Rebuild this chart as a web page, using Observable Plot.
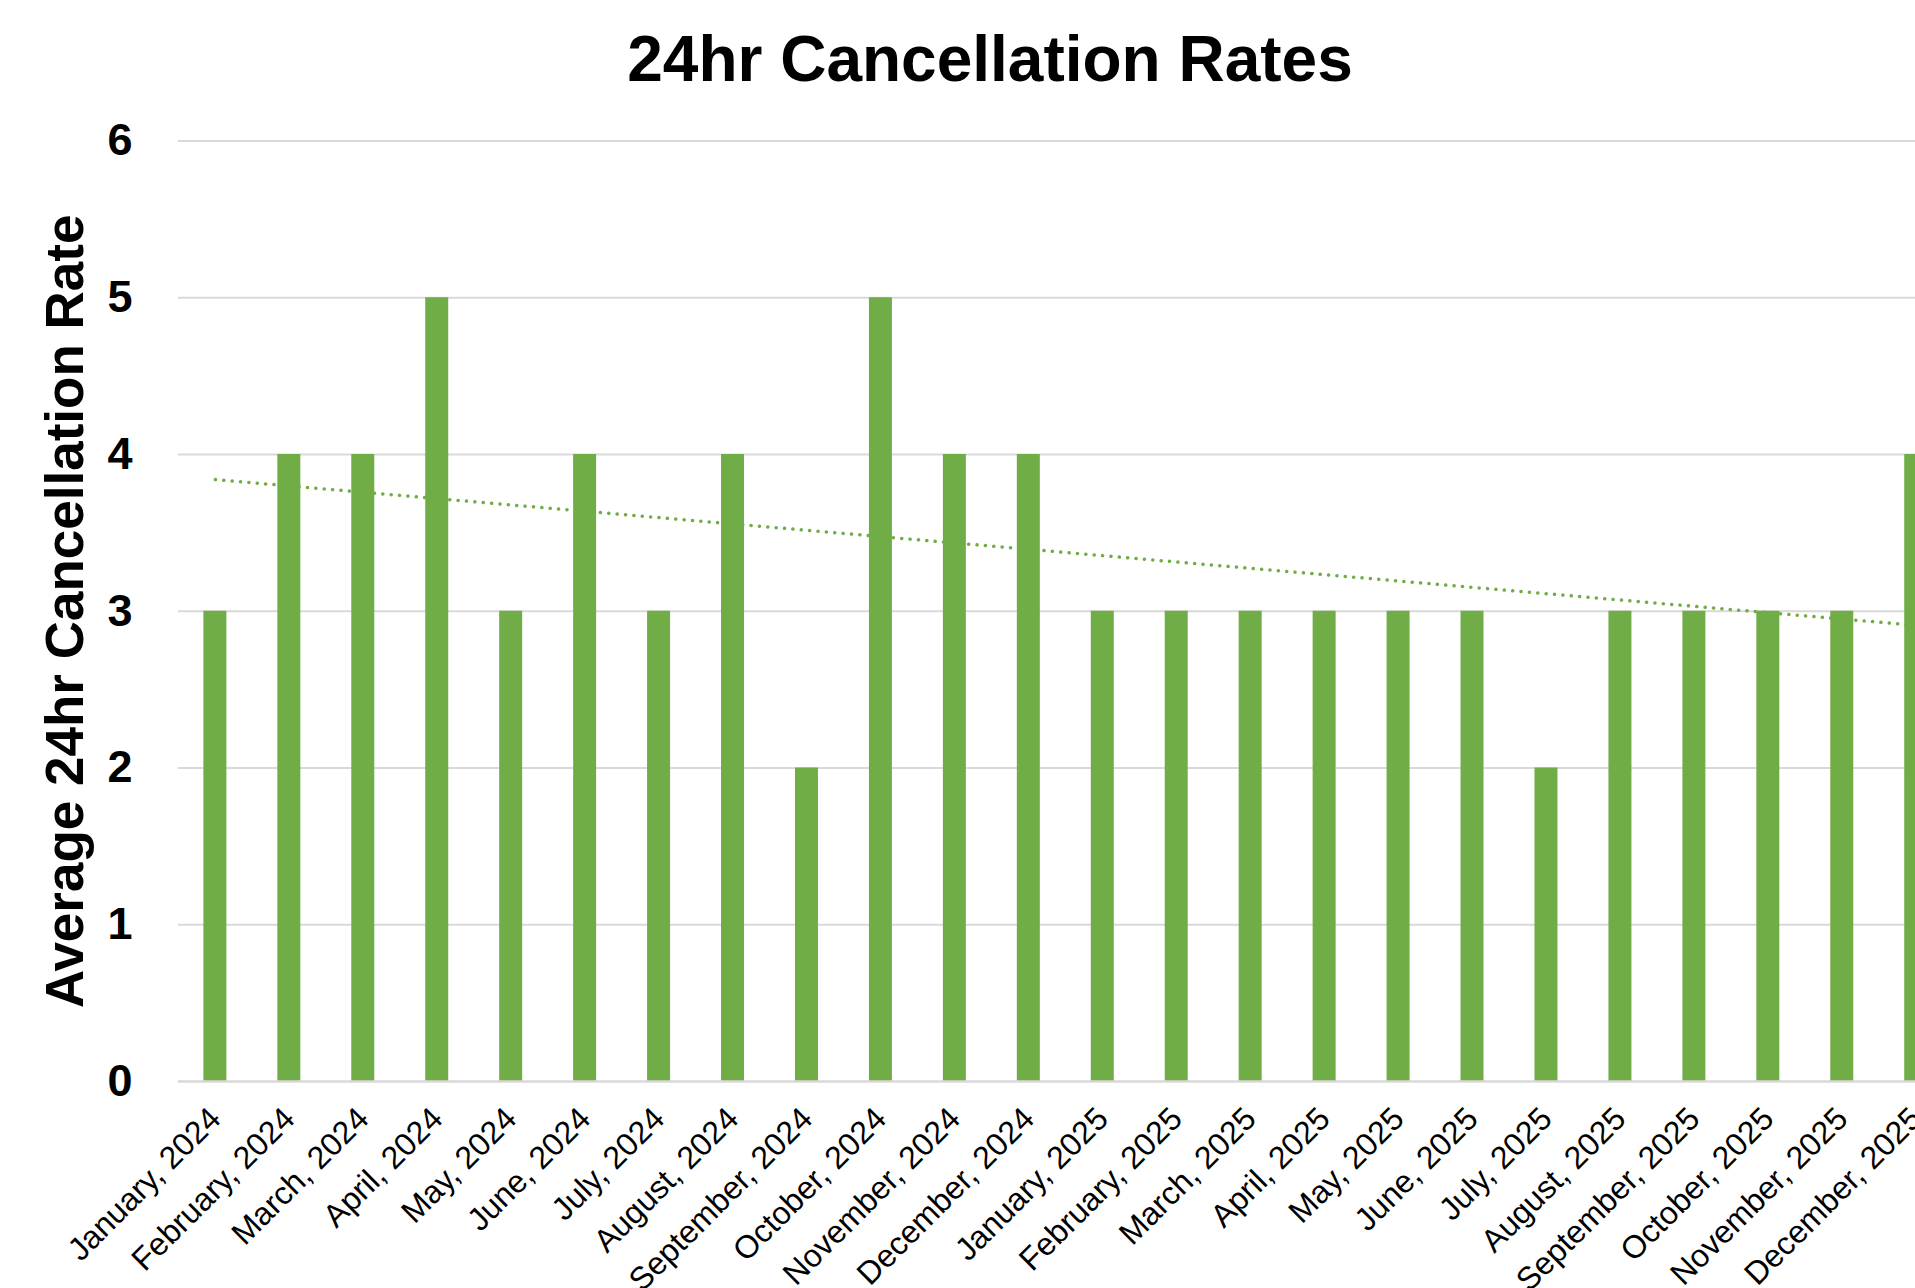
<!DOCTYPE html>
<html>
<head>
<meta charset="utf-8">
<script src="https://cdn.jsdelivr.net/npm/d3@7"></script>
<script src="https://cdn.jsdelivr.net/npm/@observablehq/plot@0.6"></script>
<style>
  html, body { margin: 0; padding: 0; background: #fff; overflow: hidden; width: 1915px; height: 1288px; }
  #title { position: absolute; left: 0; top: 27px; width: 1980px; text-align: center;
    font-family: "Liberation Sans", Arial, sans-serif; font-weight: bold; font-size: 64px; line-height: 1; color: #000; }
  #chart { position: absolute; left: 0; top: 100px; }
</style>
</head>
<body>
<div id="title">24hr Cancellation Rates</div>
<div id="chart"></div>
<script>
const months = [
  "January, 2024", "February, 2024", "March, 2024", "April, 2024", "May, 2024", "June, 2024",
  "July, 2024", "August, 2024", "September, 2024", "October, 2024", "November, 2024", "December, 2024",
  "January, 2025", "February, 2025", "March, 2025", "April, 2025", "May, 2025", "June, 2025",
  "July, 2025", "August, 2025", "September, 2025", "October, 2025", "November, 2025", "December, 2025"
];
const rates = [3, 4, 4, 5, 3, 4, 3, 4, 2, 5, 4, 4, 3, 3, 3, 3, 3, 3, 2, 3, 3, 3, 3, 4];
const yTicks = [0, 1, 2, 3, 4, 5, 6];
const yLabel = "Average 24hr Cancellation Rate";

const data = months.map((m, i) => ({month: m, rate: rates[i], idx: i + 1}));

// linear trendline (least squares, like the spreadsheet trendline)
const mx = d3.mean(data, d => d.idx), my = d3.mean(data, d => d.rate);
const slope = d3.sum(data, d => (d.idx - mx) * (d.rate - my)) / d3.sum(data, d => (d.idx - mx) ** 2);
const intercept = my - slope * mx;
const trend = data.map(d => ({month: d.month, value: intercept + slope * d.idx}));

const green = "#70AD47";
const grid = "#D9D9D9";
const font = '"Liberation Sans", Arial, sans-serif';

const W = 1915, H = 1188;
const x0 = 177.9, step = 73.95;

const chart = Plot.plot({
  width: W,
  height: H,
  marginLeft: 178,
  marginRight: 0,
  marginTop: 40.5,
  marginBottom: 207,
  style: {fontFamily: font, color: "#000", background: "#fff", maxWidth: "none"},
  x: {domain: months, range: [x0, x0 + step * months.length], round: false,
      paddingInner: 0.689, paddingOuter: 0.3445, label: null},
  y: {domain: [0, 6], label: null},
  marks: [
    Plot.ruleY(yTicks.filter(t => t > 0), {stroke: grid, strokeWidth: 2}),
    Plot.line(trend, {x: "month", y: "value", stroke: green, strokeWidth: 3.5,
      strokeDasharray: "0.1 8.3", strokeLinecap: "round"}),
    Plot.barY(data, {x: "month", y: "rate", fill: green}),
    Plot.ruleY([0], {stroke: grid, strokeWidth: 2.5}),
    Plot.axisY({ticks: yTicks, tickFormat: d3.format("d"), tickSize: 0, tickPadding: 46,
      fontSize: 45, fontWeight: "bold", label: null}),
    Plot.axisX({tickSize: 0, tickPadding: 32, tickRotate: -45, fontSize: 32, label: null}),
    Plot.text([yLabel], {frameAnchor: "left", textAnchor: "middle", rotate: -90, dx: -112,
      fontSize: 53, fontWeight: "bold", fill: "#000"})
  ]
});
document.getElementById("chart").appendChild(chart);
</script>
</body>
</html>
